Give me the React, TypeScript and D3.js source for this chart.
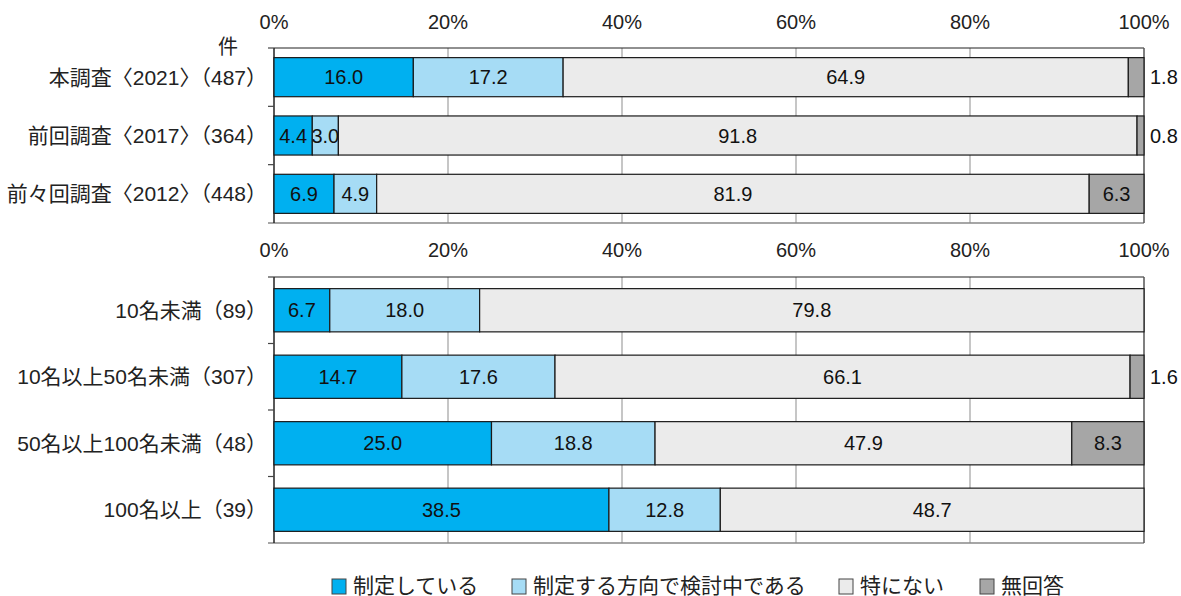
import React from "react";
import * as d3 from "d3";

const seriesNames = ["制定している", "制定する方向で検討中である", "特にない", "無回答"];
const seriesColors = ["#00B0F0", "#A6DCF5", "#EBEBEB", "#A6A6A6"];

const topCategories = ["本調査〈2021〉（487）", "前回調査〈2017〉（364）", "前々回調査〈2012〉（448）"];
const topSeikai = [16.0, 4.4, 6.9];
const topKentou = [17.2, 3.0, 4.9];
const topNashi = [64.9, 91.8, 81.9];
const topMukaitou = [1.8, 0.8, 6.3];

const botCategories = ["10名未満（89）", "10名以上50名未満（307）", "50名以上100名未満（48）", "100名以上（39）"];
const botSeikai = [6.7, 14.7, 25.0, 38.5];
const botKentou = [18.0, 17.6, 18.8, 12.8];
const botNashi = [79.8, 66.1, 47.9, 48.7];
const botMukaitou = [0, 1.6, 8.3, 0];

const tickValues = [0, 20, 40, 60, 80, 100];

const FONT = "'Liberation Sans', Arial, 'Noto Sans CJK JP', sans-serif";
const FS = 20;

type PanelProps = {
  categories: string[];
  series: number[][];
  top: number;
  bottom: number;
  tickY: number;
  barRatio: number;
};

const x = d3.scaleLinear().domain([0, 100]).range([274, 1144]);

function Panel({ categories, series, top, bottom, tickY, barRatio }: PanelProps) {
  const y = d3.scaleBand<string>().domain(categories).range([top, bottom]).paddingInner(1 - barRatio).paddingOuter((1 - barRatio) / 2);
  const step = y.step();
  return (
    <g>
      {tickValues.map((t) => (
        <text key={"t" + t} x={x(t)} y={tickY} textAnchor="middle" fontSize={FS} fill="#222">{t}%</text>
      ))}
      {tickValues.slice(1, 5).map((t) => (
        <line key={"g" + t} x1={x(t)} x2={x(t)} y1={top} y2={bottom} stroke="#A0A0A0" strokeWidth={1.2} />
      ))}
      <line x1={x(0)} x2={x(100)} y1={top} y2={top} stroke="#222" strokeWidth={1.2} />
      <line x1={268} x2={x(100)} y1={bottom} y2={bottom} stroke="#888" strokeWidth={1.5} />
      <line x1={x(100)} x2={x(100)} y1={top} y2={bottom} stroke="#555" strokeWidth={1.5} />
      <line x1={x(0)} x2={x(0)} y1={top} y2={bottom} stroke="#222" strokeWidth={1.5} />
      {categories.map((_, i) => (
        <line key={"k" + i} x1={268} x2={x(0)} y1={top + step * i} y2={top + step * i} stroke="#444" strokeWidth={1.2} />
      ))}
      {categories.map((c, i) => {
        const vals = series.map((s) => s[i]);
        const total = d3.sum(vals);
        let acc = 0;
        const by = y(c)!;
        const bh = y.bandwidth();
        return (
          <g key={c}>
            <text x={267} y={by + bh / 2} textAnchor="end" dominantBaseline="central" fontSize={21} fill="#222">{c}</text>
            {vals.map((v, j) => {
              const x0 = x((acc / total) * 100);
              acc += v;
              const x1 = x((acc / total) * 100);
              if (v <= 0) return null;
              const small = v < 2.5 && j === 3;
              return (
                <g key={j}>
                  <rect x={x0} y={by} width={x1 - x0} height={bh} fill={seriesColors[j]} stroke="#1a1a1a" strokeWidth={1.2} />
                  {small ? (
                    <text x={1150} y={by + bh / 2} dominantBaseline="central" fontSize={FS} fill="#111">{v.toFixed(1)}</text>
                  ) : (
                    <text x={(x0 + x1) / 2} y={by + bh / 2} textAnchor="middle" dominantBaseline="central" fontSize={FS} fill="#111">{v.toFixed(1)}</text>
                  )}
                </g>
              );
            })}
          </g>
        );
      })}
    </g>
  );
}

const legendX = [332, 512, 839, 980];

export default function App() {
  return (
    <svg width={1181} height={596} style={{ position: "absolute", left: 0, top: 0, fontFamily: FONT }}>
      <rect width={1181} height={596} fill="#fff" />
      <text x={228} y={54} textAnchor="middle" fontSize={FS} fill="#222">件</text>
      <Panel
        categories={topCategories}
        series={[topSeikai, topKentou, topNashi, topMukaitou]}
        top={48}
        bottom={223}
        tickY={29}
        barRatio={0.67}
      />
      <Panel
        categories={botCategories}
        series={[botSeikai, botKentou, botNashi, botMukaitou]}
        top={277}
        bottom={543}
        tickY={257}
        barRatio={0.65}
      />
      {seriesNames.map((n, i) => (
        <g key={n}>
          <rect x={legendX[i]} y={579} width={14} height={15} fill={seriesColors[i]} stroke="#444" strokeWidth={1} />
          <text x={legendX[i] + 21} y={593} fontSize={21} fill="#222">{n}</text>
        </g>
      ))}
    </svg>
  );
}
